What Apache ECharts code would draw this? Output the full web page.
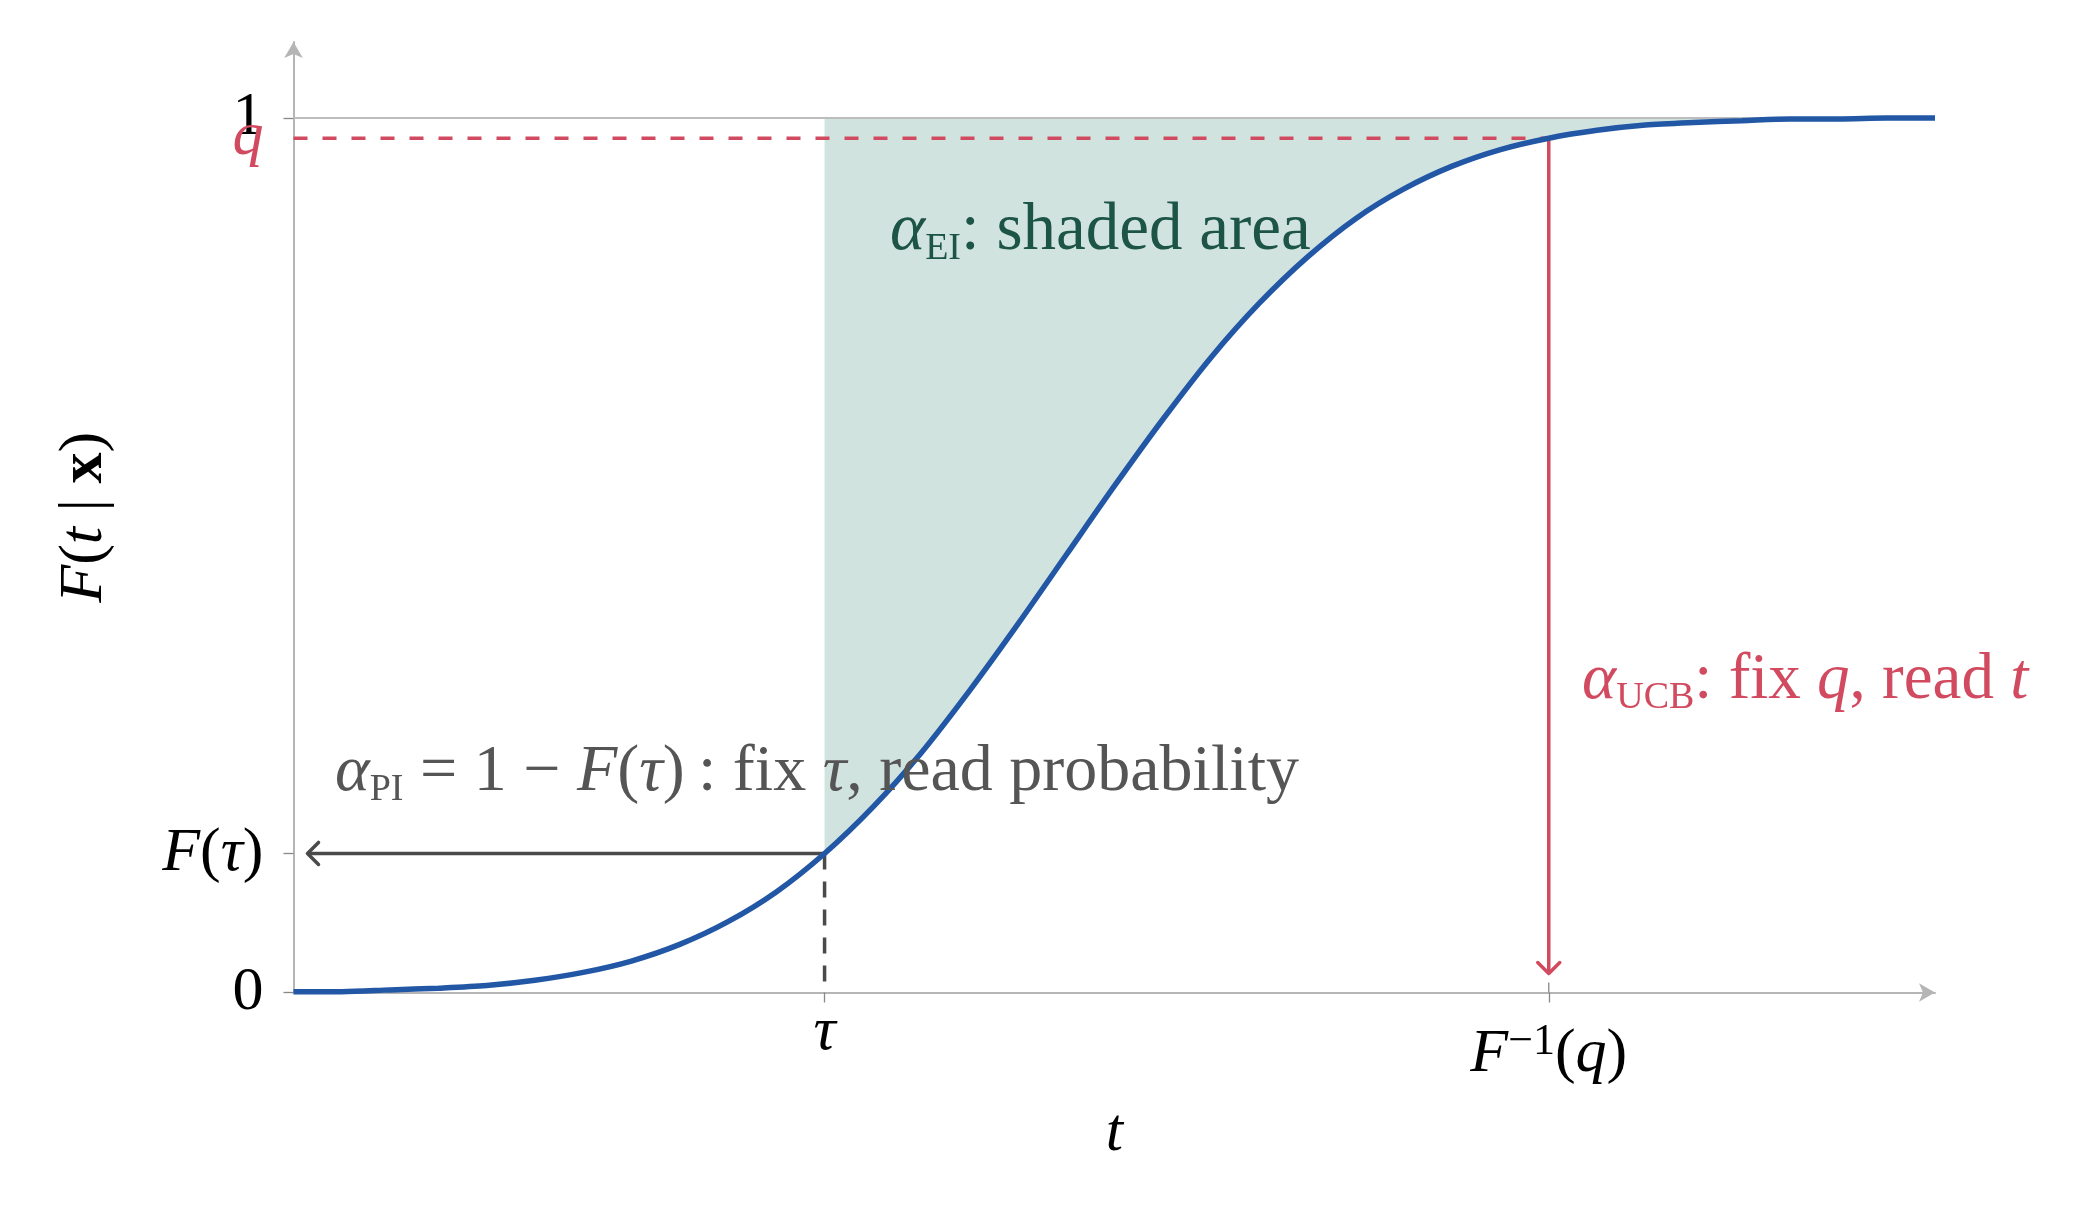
<!DOCTYPE html>
<html>
<head>
<meta charset="utf-8">
<title>Acquisition functions read off a predictive CDF</title>
<script src="https://cdn.jsdelivr.net/npm/echarts@6/dist/echarts.min.js"></script>
<style>
  html, body { margin: 0; padding: 0; background: #fff; }
  #chart { width: 2074px; height: 1205px; }
</style>
</head>
<body>
<div id="chart"></div>
<script>
const tValues = [-3.2, -3.0, -2.8, -2.6, -2.4, -2.2, -2.0, -1.8, -1.6, -1.4, -1.2, -1.0,
  -0.8, -0.6, -0.4, -0.2, 0, 0.2, 0.4, 0.6, 0.8, 1.0, 1.2, 1.4, 1.6, 1.8, 2.0, 2.2,
  2.4, 2.6, 2.8, 3.0, 3.2, 3.4, 3.6]
const cdfValues = [0.001, 0.001, 0.003, 0.005, 0.008, 0.014, 0.023, 0.036, 0.055, 0.081, 0.115, 0.159,
  0.212, 0.274, 0.345, 0.421, 0.500, 0.579, 0.655, 0.726, 0.788, 0.841, 0.885, 0.919, 0.945, 0.964, 0.977, 0.986,
  0.992, 0.995, 0.997, 0.999, 0.999, 1.000, 1.000]

const tau = -1.0        // threshold
const cdfAtTau = 0.159  // F(tau)
const qLevel = 0.977    // q
const tAtQ = 2.0        // F^-1(q)

const tMin = -3.2
const tMax = 3.6
const yTop = 1.087

const SERIF = '"Liberation Serif", "DejaVu Serif", serif'
const RED = '#d14a5f'
const BLUE = '#2257a5'
const GREEN = '#1c5445'
const GREY_TEXT = '#555555'
const DARK = '#4a4a4a'
const AXIS = '#b5b5b5'
const SHADE = '#d1e3df'

const curve = tValues.map((t, i) => [t, cdfValues[i]])
const shadeEdge = curve.filter(p => p[0] >= tau - 1e-9)

const guideKinds = ['ref', 'qDash', 'qArrow', 'tauDash', 'tauArrow', 'tick']
const guideData = [
  [tMin, 1, tMax, 1],
  [tMin, qLevel, tAtQ, qLevel],
  [tAtQ, qLevel, tAtQ, 0],
  [tau, cdfAtTau, tau, 0],
  [tau, cdfAtTau, tMin, cdfAtTau],
  [tAtQ, 0, tAtQ, 0],
]
const guideStyle = {
  ref: { color: '#bdbdbd', width: 2 },
  qDash: { color: RED, width: 3.5, dash: [14, 15] },
  qArrow: { color: RED, width: 3.5, gap: 19 },
  tauDash: { color: DARK, width: 3.5, dash: [16, 12] },
  tauArrow: { color: DARK, width: 3.5, gap: 14 },
  tick: { color: '#888', width: 1.3, up: 10 },
}

function renderGuide(params, api) {
  const st = guideStyle[guideKinds[params.dataIndex]]
  const a = api.coord([api.value(0), api.value(1)])
  let b = api.coord([api.value(2), api.value(3)])
  if (st.up) b = [a[0], a[1] - st.up]
  const children = []
  if (st.gap) {
    const dx = b[0] - a[0], dy = b[1] - a[1]
    const len = Math.hypot(dx, dy)
    const ux = dx / len, uy = dy / len
    b = [b[0] - ux * st.gap, b[1] - uy * st.gap]
    const h = 11
    children.push({
      type: 'polyline',
      shape: { points: [
        [b[0] - ux * h - uy * h, b[1] - uy * h + ux * h],
        b,
        [b[0] - ux * h + uy * h, b[1] - uy * h - ux * h],
      ] },
      style: { stroke: st.color, lineWidth: st.width, fill: null, lineCap: 'round', lineJoin: 'round' },
    })
  }
  children.unshift({
    type: 'line',
    shape: { x1: a[0], y1: a[1], x2: b[0], y2: b[1] },
    style: { stroke: st.color, lineWidth: st.width, lineDash: st.dash || null },
  })
  return { type: 'group', children }
}

// area between the curve and 1, right of tau
function renderShade(params, api) {
  const pts = shadeEdge.map(p => api.coord(p))
  pts.push(api.coord([tMax, 1]), api.coord([tau, 1]))
  return { type: 'polygon', shape: { points: pts }, style: { fill: SHADE } }
}

const labelRich = {
  r: { fontFamily: SERIF, fontSize: 62, color: '#000' },
  m: { fontFamily: SERIF, fontSize: 62, fontStyle: 'italic', color: '#000' },
  b: { fontFamily: SERIF, fontSize: 62, fontWeight: 'bold', color: '#000' },
  fr: { fontFamily: SERIF, fontSize: 62, color: '#000', padding: [22, 0, 0, 0] },
  fm: { fontFamily: SERIF, fontSize: 62, fontStyle: 'italic', color: '#000', padding: [22, 0, 0, 0] },
  sup: { fontFamily: SERIF, fontSize: 44, color: '#000', padding: [0, 0, 2, 0] },
}

const near = (a, b) => Math.abs(a - b) < 1e-6

const chart = echarts.init(document.getElementById('chart'))

const option = {
  animation: false,
  backgroundColor: '#fff',
  grid: { left: 293.5, right: 139, top: 42, bottom: 212.5, outerBoundsMode: 'none' },
  xAxis: {
    type: 'value',
    min: tMin,
    max: tMax,
    name: '{m|t}',
    nameLocation: 'middle',
    nameGap: 110,
    nameTextStyle: { rich: labelRich },
    axisLine: { onZero: false, symbol: ['none', 'arrow'], symbolSize: [14, 16], lineStyle: { color: AXIS, width: 2 } },
    axisTick: { customValues: [tau, tAtQ], length: 10, lineStyle: { color: '#888', width: 1.3 } },
    axisLabel: {
      customValues: [tau, tAtQ],
      margin: 9,
      hideOverlap: false,
      rich: labelRich,
      formatter: v => near(v, tau) ? '{m|τ}' : '{fm|F}{sup|−1}{fr|(}{fm|q}{fr|)}',
    },
    splitLine: { show: false },
  },
  yAxis: {
    type: 'value',
    min: 0,
    max: yTop,
    name: '{m|F}{r|(}{m|t}{r| | }{b|x}{r|)}',
    nameLocation: 'middle',
    nameGap: 178,
    nameRotate: 90,
    nameTextStyle: { rich: labelRich },
    axisLine: { onZero: false, symbol: ['none', 'arrow'], symbolSize: [14, 16], lineStyle: { color: AXIS, width: 2 } },
    axisTick: { customValues: [0, cdfAtTau, 1], length: 10, lineStyle: { color: '#888', width: 1.3 } },
    axisLabel: {
      customValues: [0, cdfAtTau, 1],
      margin: 30,
      hideOverlap: false,
      rich: labelRich,
      formatter: v => {
        if (near(v, 0)) return '{r|0}'
        if (near(v, cdfAtTau)) return '{m|F}{r|(}{m|τ}{r|)}'
        return '{r|1}'
      },
    },
    splitLine: { show: false },
  },
  series: [
    {
      name: 'EI area', type: 'custom', data: [[tau, 1]], renderItem: renderShade,
      clip: false, silent: true, z: 1,
    },
    {
      name: 'guides', type: 'custom', data: guideData, renderItem: renderGuide,
      clip: false, silent: true, z: 3,
    },
    {
      name: 'F(t | x)', type: 'line', data: curve, smooth: 0.3, symbol: 'none',
      lineStyle: { color: BLUE, width: 5.5 }, z: 5,
    },
  ],
}
chart.setOption(option)

// annotation texts, anchored in data coordinates (left edge, vertical middle)
function textRich(color, size) {
  return {
    r: { fontFamily: SERIF, fontSize: size, fill: color },
    i: { fontFamily: SERIF, fontSize: size, fontStyle: 'italic', fill: color },
    s: { fontFamily: SERIF, fontSize: 38, fill: color, padding: [34, 0, 0, 0] },
  }
}
const notes = [
  { at: [-0.729, 0.870], color: GREEN, size: 67, text: '{i|α}{s|EI}{r|: shaded area}' },
  { at: [-3.028, 0.251], color: GREY_TEXT, size: 66, text: '{i|α}{s|PI}{r| = 1 − }{i|F}{r|(}{i|τ}{r|)\u2009: fix }{i|τ}{r|, read probability}' },
  { at: [2.138, 0.356], color: RED, size: 65, text: '{i|α}{s|UCB}{r|: fix }{i|q}{r|, read }{i|t}' },
  // the q level label sits on the y axis, over the label 1
  { at: [tMin, qLevel], color: RED, size: 62, text: '{i|q}', right: 30 },
]
chart.setOption({
  graphic: notes.map(n => {
    const p = chart.convertToPixel({ gridIndex: 0 }, n.at)
    return {
      type: 'text', x: n.right ? p[0] - n.right : p[0], y: p[1], z: 10, silent: true,
      style: {
        text: n.text, fill: n.color, fontFamily: SERIF, fontSize: n.size,
        align: n.right ? 'right' : 'left', verticalAlign: 'middle', rich: textRich(n.color, n.size),
      },
    }
  }),
})
</script>
</body>
</html>
